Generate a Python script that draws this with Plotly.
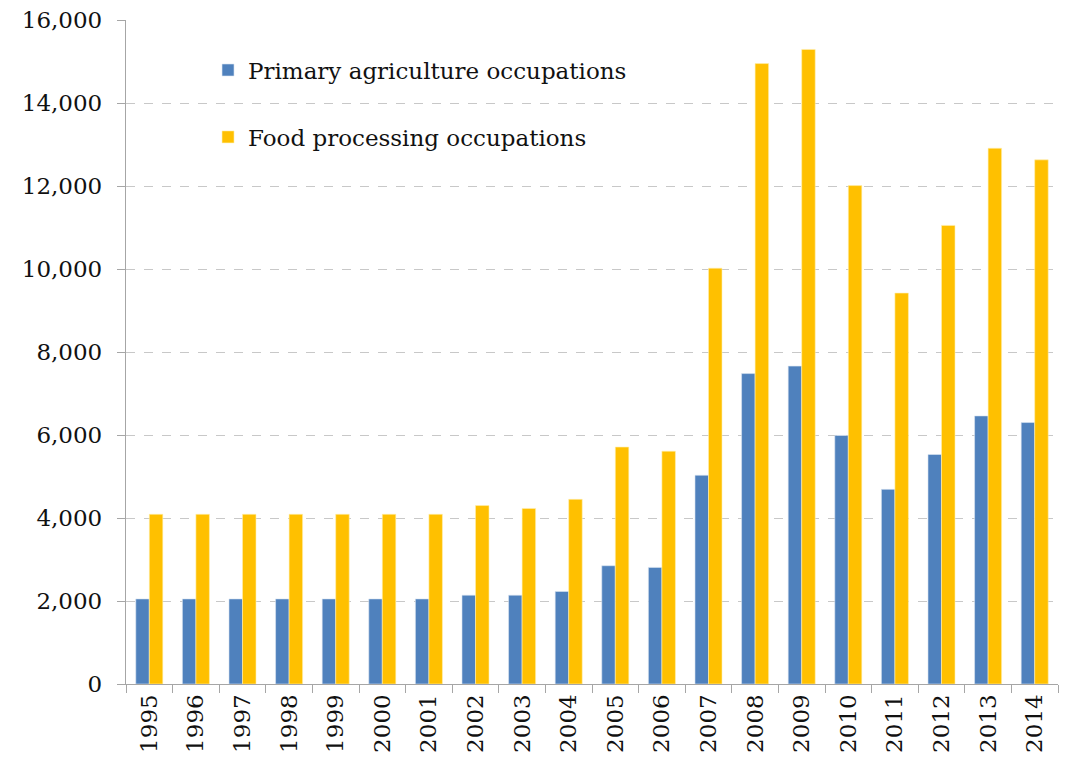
import plotly.graph_objects as go

years = [str(y) for y in range(1995, 2015)]
primary = [2050, 2050, 2050, 2050, 2050, 2050, 2050, 2140, 2140, 2230,
           2850, 2810, 5030, 7480, 7660, 5990, 4690, 5530, 6460, 6300]
food = [4090, 4090, 4090, 4090, 4090, 4090, 4090, 4300, 4230, 4450,
        5710, 5610, 10020, 14950, 15290, 12010, 9420, 11050, 12910, 12630]
y_ticks = [0, 2000, 4000, 6000, 8000, 10000, 12000, 14000, 16000]
y_tick_text = ["0", "2,000", "4,000", "6,000", "8,000", "10,000", "12,000", "14,000", "16,000"]

FONT = "Georgia, 'DejaVu Serif', serif"

fig = go.Figure()
fig.add_trace(go.Bar(x=years, y=primary, name="Primary agriculture occupations",
                     marker=dict(color="#4F81BD", line=dict(color="#DCE6F2", width=0.6)),
                     legendgroup="a"))
fig.add_trace(go.Bar(x=years, y=food, name="Food processing occupations",
                     marker=dict(color="#FFC000", line=dict(color="#FFF0B0", width=0.6)),
                     legendgroup="b"))

fig.update_layout(
    width=1065, height=763,
    margin=dict(l=126, r=7, t=20, b=79),
    plot_bgcolor="white", paper_bgcolor="white",
    barmode="group", bargap=0.42, bargroupgap=0,
    font=dict(family=FONT, color="#222222"),
    showlegend=True,
    legend=dict(x=0.088, y=0.957, xanchor="left", yanchor="top",
                font=dict(family=FONT, size=23, color="#111111"),
                tracegroupgap=34, itemwidth=30, bgcolor="rgba(0,0,0,0)"),
    xaxis=dict(
        type="category", tickangle=-90, tickson="boundaries",
        ticks="outside", ticklen=8, tickcolor="#A6A6A6",
        showline=True, linecolor="#A6A6A6", linewidth=1.3,
        showgrid=False, tickfont=dict(family=FONT, size=23, color="#111111"),
    ),
    yaxis=dict(
        range=[0, 16000], tickvals=y_ticks, ticktext=y_tick_text,
        ticks="outside", ticklen=8, tickcolor="#A6A6A6",
        showline=True, linecolor="#A6A6A6", linewidth=1.3,
        showgrid=True, gridcolor="#C8C8C8", griddash="dash", gridwidth=1,
        zeroline=False, ticklabelstandoff=10,
        tickfont=dict(family=FONT, size=23, color="#111111"),
    ),
)

fig.write_html("out.html")
